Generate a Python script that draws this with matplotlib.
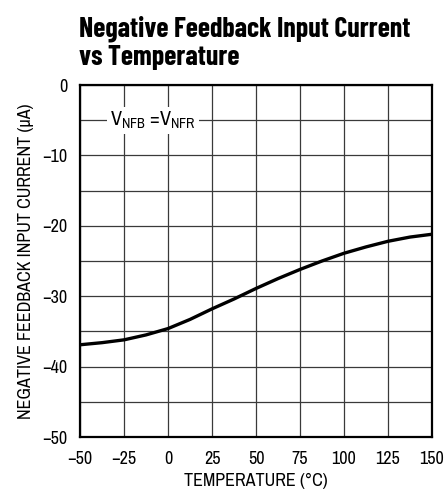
import matplotlib
matplotlib.use('Agg')
import matplotlib.pyplot as plt

# values
temps = [-50, -37.5, -25, -12.5, 0, 12.5, 25, 37.5, 50, 62.5, 75, 87.5, 100, 112.5, 125, 137.5, 150]
current = [-36.9, -36.6, -36.2, -35.5, -34.6, -33.3, -31.8, -30.4, -28.9, -27.5, -26.2, -25.0,
           -23.9, -23.0, -22.2, -21.6, -21.2]

x_ticks = [-50, -25, 0, 25, 50, 75, 100, 125, 150]
y_ticks = [0, -10, -20, -30, -40, -50]

font = ['Archivo Narrow', 'Liberation Sans Narrow', 'DejaVu Sans']
title_font = ['Barlow Condensed', 'Barlow Semi Condensed', 'Archivo Narrow', 'DejaVu Sans']
plt.rcParams['font.family'] = font
plt.rcParams['mathtext.fontset'] = 'custom'
plt.rcParams['mathtext.rm'] = 'Archivo Narrow'

fig = plt.figure(figsize=(4.48, 4.91), dpi=100)
ax = fig.add_axes([80 / 448, 1 - 437 / 491, 352 / 448, 352 / 491])

ax.plot(temps, current, color='black', lw=2.4, solid_capstyle='butt', zorder=4)

ax.set_xlim(-50, 150)
ax.set_ylim(-50, 0)
ax.set_xticks(x_ticks)
ax.set_xticklabels([f"{t}".replace('-', '\u2212') for t in x_ticks])
ax.set_yticks(y_ticks)
ax.set_yticklabels([f"{t}".replace('-', '\u2212') for t in y_ticks])
ax.set_yticks(range(-45, 0, 10), minor=True)
ax.tick_params(which='both', length=0, labelsize=13)
ax.tick_params(axis='x', pad=10)
ax.tick_params(axis='y', pad=9)

ax.grid(True, which='both', color='#3a3a3a', lw=0.9)
for s in ax.spines.values():
    s.set_linewidth(1.6)

ax.text(-8.5, -5, r'$\mathregular{V_{NFB}}$ =$\mathregular{V_{NFR}}$', fontsize=14.5,
        ha='center', va='center', zorder=5,
        bbox=dict(facecolor='white', edgecolor='none', pad=2))

ax.set_xlabel('TEMPERATURE (\u00b0C)', fontsize=13, labelpad=4)
ax.set_ylabel('NEGATIVE FEEDBACK INPUT CURRENT (\u03bcA)', fontsize=13, labelpad=6)

fig.text(79 / 448, 1 - 15 / 491, 'Negative Feedback Input Current\nvs Temperature',
         fontsize=20, fontweight='bold', family=title_font,
         ha='left', va='top', linespacing=1.15)

fig.savefig('out.png', dpi=100)
